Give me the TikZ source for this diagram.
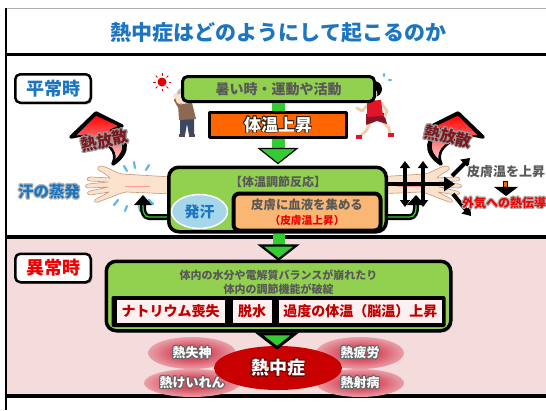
\documentclass[tikz,border=0pt]{standalone}
\usepackage{fontspec}
\setmainfont{Noto Sans CJK JP}
\usepackage{contour}
\usetikzlibrary{arrows.meta,shadows,shapes.geometric,calc}

\newcommand\jfs[1]{\fontsize{#1}{#1}\selectfont\bfseries}

\definecolor{titleblue}{RGB}{28,117,190}
\definecolor{boxgreen}{RGB}{146,208,80}
\definecolor{arrowgreen}{RGB}{51,204,51}
\definecolor{hotorange}{RGB}{255,102,0}
\definecolor{peach}{RGB}{250,182,115}
\definecolor{textgray}{RGB}{89,89,89}
\definecolor{pinkbg}{RGB}{244,220,221}
\definecolor{cellpink}{RGB}{253,240,240}
\definecolor{darkred}{RGB}{192,0,0}
\definecolor{brightred}{RGB}{240,0,0}
\definecolor{sweatblue}{RGB}{165,214,234}
\definecolor{dropblue}{RGB}{95,185,230}
\definecolor{skin}{RGB}{251,226,204}
\definecolor{skinline}{RGB}{200,150,120}
\definecolor{heatred}{RGB}{125,25,30}
\definecolor{shirtbrown}{RGB}{140,105,80}
\definecolor{pantsblue}{RGB}{60,72,95}
\definecolor{runred}{RGB}{225,20,40}
\definecolor{shortsred}{RGB}{135,20,40}
\definecolor{corered}{RGB}{200,0,0}
\definecolor{halored}{RGB}{215,75,95}
\definecolor{halomid}{RGB}{234,165,172}

% soft glows: solid core that fades out at the edge of the filled path
\pgfdeclareradialshading{coreglow}{\pgfpoint{0bp}{0bp}}{%
  color(0bp)=(corered); color(39bp)=(corered); color(50bp)=(pinkbg)}
\pgfdeclareradialshading{labelglow}{\pgfpoint{0bp}{0bp}}{%
  color(0bp)=(halored); color(10bp)=(halored); color(26bp)=(halomid); color(50bp)=(pinkbg)}

\tikzset{
  arm/.pic={
    \filldraw[fill=skin, draw=skinline, line width=0.6pt]
      (172,177) -- (122,174)
      .. controls (114,172) and (106,166) .. (101,166)
      .. controls (97,166) and (97,170) .. (100,171)
      .. controls (104,173) and (108,176) .. (110,178)
      -- (91,177) .. controls (86,177) and (86,181) .. (90,181)
      -- (108,182) -- (88,184) .. controls (84,185) and (85,188) .. (89,188)
      -- (108,187) -- (90,191) .. controls (86,192) and (87,195) .. (91,195)
      -- (109,192) -- (96,199) .. controls (93,201) and (95,203) .. (98,202)
      -- (114,196) .. controls (118,194) and (122,193) .. (126,192)
      -- (172,194) -- cycle;
    \draw[red!40, line width=0.4pt] (125,186) -- (150,186);
  },
  heatarrow/.pic={
    \path[draw=black, line width=3.5pt, fill=black]
      (96,113) -- (122,126) -- (111,129)
      .. controls (128,137) and (131,152) .. (113,164)
      .. controls (119,152) and (110,141) .. (86,134)
      -- (71,137) -- cycle;
    \shade[top color=red, bottom color=red!20!white, draw=black, line width=0.8pt]
      (96,115) -- (119,126) -- (110,130)
      .. controls (125,137) and (127,150) .. (115,160)
      .. controls (117,150) and (108,140) .. (86,135)
      -- (75,136) -- cycle;
  },
  tagbox/.style={draw, line width=2.5pt, rounded corners=5pt, fill=white,
    minimum width=75.5pt, minimum height=28.5pt, inner sep=0pt, font=\jfs{18},
    drop shadow={shadow xshift=1.5pt, shadow yshift=-1.5pt, fill=black, opacity=0.3}},
  greenpanel/.style={draw, line width=3.5pt, rounded corners=10pt, fill=boxgreen, inner sep=0pt,
    drop shadow={shadow xshift=1.5pt, shadow yshift=-1.5pt, fill=black, opacity=0.25}},
  cell/.style={fill=cellpink, inner sep=0pt, minimum height=23pt, text=darkred, font=\jfs{14}},
  graytext/.style={text=textgray, inner sep=0pt},
  glowlabel/.style={text=white, font=\jfs{13}, inner sep=0pt},
  crossarrow/.style={line width=4pt, draw=black},
}

\begin{document}
\begin{tikzpicture}[x=1pt,y=-1pt,line join=round]
\useasboundingbox (0,0) rectangle (546,410);

% sheet, section bands and rules
\fill[white] (0,0) rectangle (546,410);
\fill[pinkbg] (6,237) rectangle (546,395);
\draw[gray!60, line width=1pt] (6,8.5) -- (546,8.5);
\draw[line width=3pt] (6,54) -- (546,54);
\draw[line width=4pt] (6,237) -- (546,237);
\draw[line width=4pt] (6,395.5) -- (546,395.5);
\draw[line width=1.8pt] (6,8) -- (6,410);

% title
\node[text=titleblue, font=\jfs{21}, inner sep=0pt] (title) at (278.5,33) {熱中症はどのようにして起こるのか};

% section tags
\node[tagbox, text=titleblue] (normal) at (53,88.5) {平常時};
\node[tagbox, text=brightred] (abnormal) at (53,268) {異常時};

% sun
\fill[red!90!black] (162,82) circle (4.5pt);
\foreach \a in {0,45,...,315}
  \draw[red!90!black, line width=1pt] ($(162,82)+(\a:6.5pt)$) -- ($(162,82)+(\a:9pt)$);

% old man holding his forehead
\fill[pantsblue] (180,117) -- (194,117) -- (194,135) -- (189,135) -- (187,124) -- (185,135) -- (180,135) -- cycle;
\fill[black!70] (179,134) rectangle (185,137);
\fill[black!70] (189,134) rectangle (195,137);
\fill[shirtbrown] (178,104) -- (192,103) -- (196,119) -- (179,120) -- cycle;
\draw[shirtbrown, line width=4pt, line cap=round] (180,107) -- (176,100);
\fill[gray!55] (184,95) circle (7.5pt);
\fill[skin] (181,99) circle (5.5pt);
\fill[skin] (176,96) circle (2.8pt);
\fill[red!60] (181,104) circle (1pt);

% runner
\draw[skin!80!brown, line width=3pt, line cap=round] (371,121) -- (366,131) -- (360,136);
\draw[skin!80!brown, line width=3pt, line cap=round] (382,121) -- (389,128) -- (390,134);
\fill[runred] (356,135) rectangle (362,139);
\fill[runred] (388,133) rectangle (394,137);
\fill[shortsred] (366,114) -- (384,113) -- (387,124) -- (377,121) -- (366,125) -- cycle;
\draw[skin!80!brown, line width=3pt, line cap=round] (369,104) -- (362,111) -- (357,108);
\draw[skin!80!brown, line width=3pt, line cap=round] (381,103) -- (387,111) -- (385,116);
\fill[runred] (367,101) -- (381,100) -- (383,116) -- (367,117) -- cycle;
\fill[black] (374,89) circle (8pt);
\fill[skin] (371,94) circle (6.3pt);
\fill[dropblue] (384,75) ellipse (1.2pt and 2pt);
\fill[dropblue] (390,80) ellipse (2pt and 1.2pt);

% arms
\pic {arm};
\begin{scope}[xshift=547pt, xscale=-1]
  \pic[transform shape] {arm};
\end{scope}

% sweat drops around the left arm
\foreach \p/\q in {{(127,171)}/{(124,166)}, {(135,168)}/{(134,162)}, {(146,170)}/{(149,165)},
                   {(118,200)}/{(114,205)}, {(127,206)}/{(125,211)}, {(139,206)}/{(140,211)}, {(149,200)}/{(153,204)}}
  \draw[dropblue, line width=2.2pt, line cap=round] \p -- \q;

% heat release arrows
\pic {heatarrow};
\begin{scope}[xshift=554pt, xscale=-1]
  \pic[transform shape] {heatarrow};
\end{scope}
\contourlength{1pt}
\node[text=heatred, font=\jfs{16}, inner sep=0pt, rotate=12] (releaseL) at (105,141) {\contour{gray!75}{熱放散}};
\node[text=heatred, font=\jfs{16}, inner sep=0pt, rotate=-12] (releaseR) at (448,137) {\contour{gray!75}{熱放散}};

% trigger and body temperature
\node[draw, line width=3pt, rounded corners=5pt, fill=boxgreen, minimum width=192pt, minimum height=25pt,
      inner sep=0pt, text=textgray, font=\jfs{14}] (cause) at (278.5,89) {暑い時・運動や活動};
\node[draw, line width=3pt, fill=hotorange, minimum width=137pt, minimum height=25pt, inner sep=0pt,
      text=white, font=\jfs{17}, drop shadow={shadow xshift=1.5pt, shadow yshift=-1.5pt, fill=black, opacity=0.3}]
      (rise) at (278,125) {\contourlength{0.8pt}\contour{black!75!brown}{体温上昇}};
\fill[arrowgreen] ($(cause.south)+(-6.5,0)$) rectangle ($(rise.north)+(6.5,0)$);

% regulation panel
\node[greenpanel, minimum width=217.5pt, minimum height=64.5pt] (reg) at (277.5,199.5) {};
\node[graytext, font=\jfs{12}] (regtitle) at (278,182) {【体温調節反応】};
\node[ellipse, fill=sweatblue, draw=white, line width=1.5pt, minimum width=56pt, minimum height=34pt,
      inner sep=0pt, text=titleblue, font=\jfs{15}] (sweat) at (199.5,211.5) {発汗};
\node[draw, line width=4pt, fill=peach, rounded corners=6pt, minimum width=147pt, minimum height=37pt,
      inner sep=0pt] (skinbox) at (307,212) {};
\node[graytext, font=\jfs{12.4}] (skintext) at (307,205) {皮膚に血液を集める};
\node[text=brightred, font=\jfs{10.7}, inner sep=0pt] (skinrise) at (307,220.5) {（皮膚温上昇）};

% arrow from body temperature to the panel
\coordinate (a1s) at (rise.south);
\coordinate (a1t) at ($(reg.north)+(0,-2)$);
\fill[arrowgreen] let \p1=(a1s), \p2=(a1t) in (\x1-6.5pt,\y1) rectangle (\x1+6.5pt,\y2+14pt);
\filldraw[fill=arrowgreen, draw=black, line width=1.2pt, line join=miter] let \p1=(a1s), \p2=(a1t) in
  (\x1-19pt,\y2+15pt) -- (\x1+19pt,\y2+15pt) -- (\x1,\y2) -- cycle;

% outlined return arrows on both sides of the panel
\coordinate (lstart) at ($(reg.west)+(0,17.5)$);
\coordinate (ltip) at (143,195);
\coordinate (rstart) at ($(reg.east)+(0,17.5)$);
\coordinate (rtip) at (416,195);
\draw[line width=6pt] (lstart) -- (149,217) to[out=180,in=270] (143,208) -- (143,203);
\draw[line width=1.3pt, arrowgreen] (lstart) -- (149,217) to[out=180,in=270] (143,208) -- (143,205);
\fill let \p1=(ltip) in (\x1-9pt,\y1-10pt) -- (\x1+9pt,\y1-10pt) -- (\x1,\y1) -- cycle;
\draw[line width=6pt] (rstart) -- (410,217) to[out=0,in=270] (416,208) -- (416,203);
\draw[line width=1.3pt, arrowgreen] (rstart) -- (410,217) to[out=0,in=270] (416,208) -- (416,205);
\fill let \p1=(rtip) in (\x1-9pt,\y1-10pt) -- (\x1+9pt,\y1-10pt) -- (\x1,\y1) -- cycle;

% heat spreading from the skin of the right arm
\coordinate (h0) at (388,184);
\coordinate (h1) at (455,184);
\coordinate (v1a) at (405,161);
\coordinate (v1b) at (405,207);
\coordinate (v2a) at (423,161);
\coordinate (v2b) at (423,207);
\coordinate (d0) at (452,176);
\coordinate (d1) at (470,158);
\coordinate (e0) at (453,194);
\coordinate (e1) at (471,216);
\draw[crossarrow, -{Triangle[length=11pt,width=14pt]}] (h0) -- (h1);
\draw[crossarrow, line width=3.5pt, {Triangle[length=7pt,width=10pt]}-{Triangle[length=7pt,width=10pt]}] (v1a) -- (v1b);
\draw[crossarrow, line width=3.5pt, {Triangle[length=7pt,width=10pt]}-{Triangle[length=7pt,width=10pt]}] (v2a) -- (v2b);
\draw[crossarrow, -{Triangle[length=8pt,width=11pt]}] (d0) -- (d1);
\draw[crossarrow, -{Triangle[length=8pt,width=11pt]}] (e0) -- (e1);

% side labels
\contourlength{0.9pt}
\node[text=titleblue, font=\jfs{15.5}, inner sep=0pt] (evap) at (49,192) {\contour{gray!55}{汗の蒸発}};
\node[graytext, font=\jfs{13}] (skinup) at (506,172) {\contour{white}{皮膚温を上昇}};
\node[text=brightred, font=\jfs{12}, inner sep=0pt] (conduct) at (504,203.5) {\contour{gray!60}{外気への熱伝導}};
\filldraw[fill=hotorange, draw=black, line width=0.8pt] ($(skinup.south)+(-3,3)$) rectangle ($(conduct.north)+(3,-9)$);
\fill let \p1=(skinup.south), \p2=(conduct.north) in (\x1-12pt,\y2+10pt) -- (\x1+12pt,\y2+10pt) -- (\x1,\y2+1pt) -- cycle;

% arrow into the abnormal section
\coordinate (a2s) at (reg.south);
\coordinate (a2t) at ($(reg.south)+(1,26)$);
\fill[arrowgreen] let \p1=(a2s), \p2=(a2t) in (\x2-6pt,\y1) rectangle (\x2+6pt,\y2+13pt);
\filldraw[fill=arrowgreen, draw=black, line width=2.2pt, line join=miter] let \p1=(a2s), \p2=(a2t) in
  (\x2-18pt,\y2+14pt) -- (\x2+18pt,\y2+14pt) -- (\x2,\y2) -- cycle;

% breakdown panel
\node[greenpanel, minimum width=344.5pt, minimum height=69.5pt] (lower) at (278.5,296) {};
\node[graytext, font=\jfs{11}] (line1) at (278.5,275) {体内の水分や電解質バランスが崩れたり};
\node[graytext, font=\jfs{11}] (line2) at (278.5,289) {体内の調節機能が破綻};
\node[fill=black, rounded corners=2pt, minimum width=334pt, minimum height=31pt, inner sep=0pt] (band) at (278.5,311.5) {};
\node[cell, minimum width=108pt] (sodium) at (170.6,311.5) {ナトリウム喪失};
\node[cell, minimum width=39pt] (dehyd) at (252.1,311.5) {脱水};
\node[cell, minimum width=163.6pt] (brain) at (360.4,311.5) {過度の体温（脳温）上昇};

% glows around the outcomes
\shade[shading=labelglow] (192,353) ellipse (44pt and 16pt);
\shade[shading=labelglow] (192,383) ellipse (48pt and 14pt);
\shade[shading=labelglow] (360,353) ellipse (44pt and 16pt);
\shade[shading=labelglow] (360,383) ellipse (44pt and 14pt);
\shade[shading=coreglow] (278,368) ellipse (64pt and 22pt);
\node[ellipse, minimum width=106pt, minimum height=30pt, inner sep=0pt,
      text=white, font=\jfs{18}] (heat) at (278,368) {\contourlength{0.9pt}\contour{red!40!black}{熱中症}};

% arrow into heat illness
\coordinate (a3s) at (lower.south);
\coordinate (a3t) at ($(heat.north)+(-1,-4)$);
\fill[arrowgreen] let \p1=(a3s), \p2=(a3t) in (\x2-7pt,\y1) rectangle (\x2+7pt,\y2+14pt);
\filldraw[fill=arrowgreen, draw=black, line width=3pt, line join=miter] let \p1=(a3s), \p2=(a3t) in
  (\x2-18pt,\y2+15pt) -- (\x2+18pt,\y2+15pt) -- (\x2,\y2+1pt) -- cycle;

% outcomes
\contourlength{1pt}
\node[glowlabel] (faint) at (192,353) {\contour{gray!80!black}{熱失神}};
\node[glowlabel] (cramp) at (192,383) {\contour{gray!80!black}{熱けいれん}};
\node[glowlabel] (exhaust) at (360,353) {\contour{gray!80!black}{熱疲労}};
\node[glowlabel] (stroke) at (360,383) {\contour{gray!80!black}{熱射病}};
\end{tikzpicture}
\end{document}
